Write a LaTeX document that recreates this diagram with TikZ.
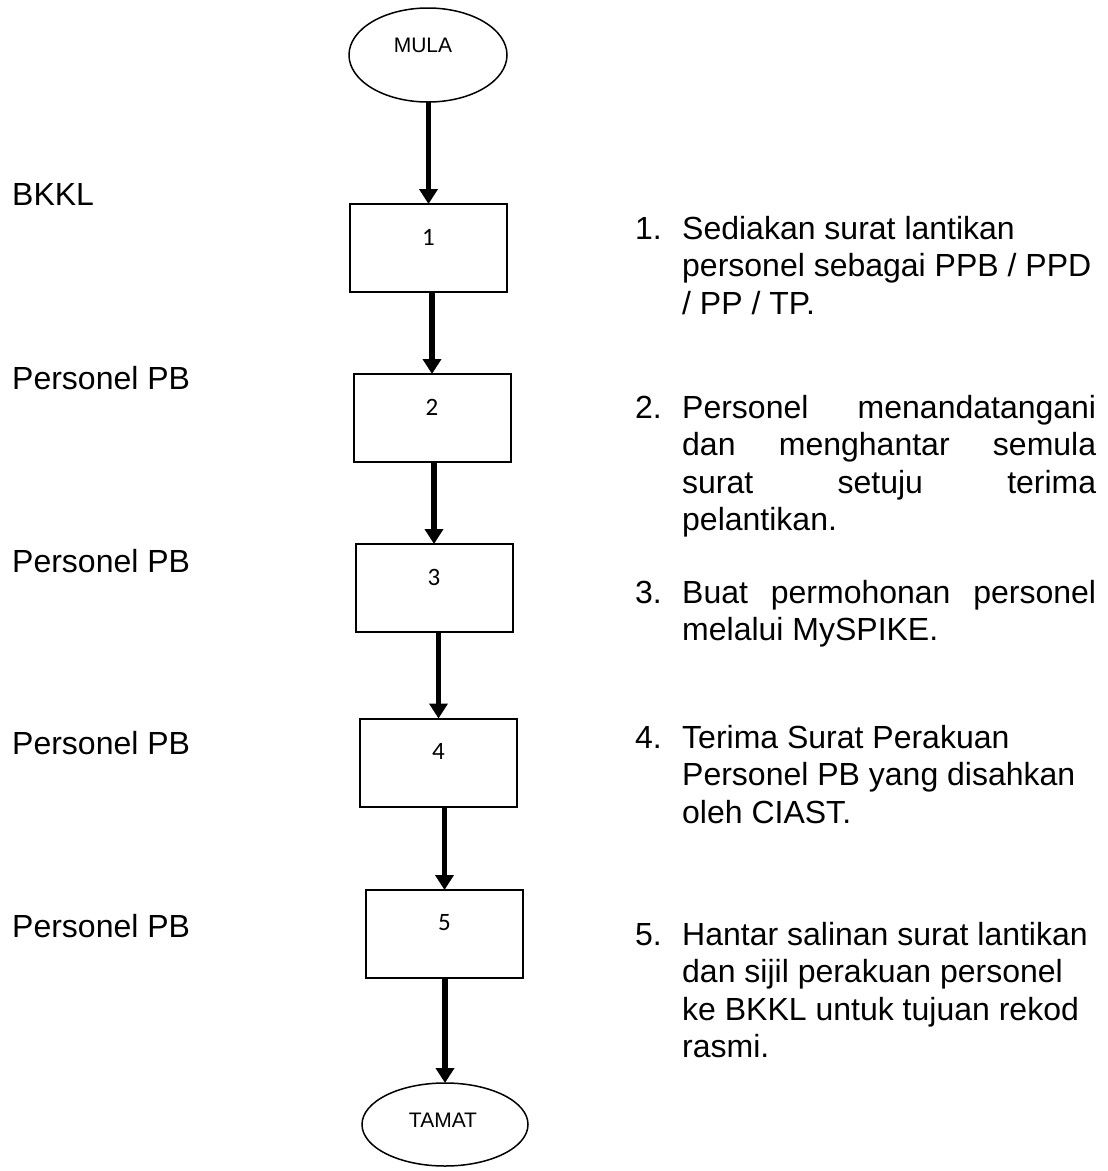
\documentclass[tikz,border=0pt]{standalone}
\usepackage{fontspec}
\setmainfont{Liberation Sans}
\newfontfamily\digitfont{Carlito}
\usetikzlibrary{shapes.geometric,arrows.meta}
% a justified line of the step descriptions
\newcommand{\jline}[1]{\makebox[414pt][s]{#1}}
% number column of the step descriptions
\newcommand{\stepno}[1]{\makebox[47pt][l]{#1}}
\begin{document}
\begin{tikzpicture}[x=1pt,y=-1pt,
  stepbox/.style={draw, rectangle, line width=2pt, minimum width=157pt,
    minimum height=88pt, inner sep=0pt, outer sep=0pt},
  terminal/.style={draw, ellipse, line width=1.5pt, inner sep=0pt, outer sep=0pt},
  termtext/.style={font=\fontsize{21}{25}\selectfont, inner sep=0pt},
  digit/.style={font=\digitfont\fontsize{25}{30}\selectfont, inner sep=0pt},
  role/.style={font=\fontsize{32}{37.5}\selectfont, anchor=base west, inner sep=0pt},
  desc/.style={font=\fontsize{32}{37.5}\selectfont, anchor=base west, inner sep=0pt},
  flow/.style={line width=5.5pt, -{Triangle[width=18pt,length=15pt]}}]
  \useasboundingbox (0,0) rectangle (1108,1171);

  % start and end terminals
  \node[terminal, minimum width=158pt, minimum height=94pt] (start) at (428,55) {};
  \node[termtext] (startlbl) at (423,45) {MULA};
  \node[terminal, minimum width=166pt, minimum height=83pt] (end) at (445,1124.5) {};
  \node[termtext] (endlbl) at (443,1120) {TAMAT};

  % process steps
  \node[stepbox] (b1) at (428.5,248) {};
  \node[stepbox] (b2) at (432,418) {};
  \node[stepbox] (b3) at (434,588) {};
  \node[stepbox] (b4) at (438.5,762.5) {};
  \node[stepbox] (b5) at (444.5,934) {};
  \foreach \i in {1,...,5}
    \node[digit] (d\i) at ([yshift=-33pt]b\i.north) {\i};

  % flow arrows
  \draw[flow] (start.south -| b1.north) -- (b1.north);
  \draw[flow] (b1.south -| b2.north) -- (b2.north);
  \draw[flow] (b2.south -| b3.north) -- (b3.north);
  \draw[flow] (b3.south -| b4.north) -- (b4.north);
  \draw[flow] (b4.south -| b5.north) -- (b5.north);
  \draw[flow] (b5.south -| end.north) -- (end.north);

  % responsible party of each step
  \node[role] (r1) at (12,205) {BKKL};
  \node[role] (r2) at (12,389) {Personel PB};
  \node[role] (r3) at (12,572) {Personel PB};
  \node[role] (r4) at (12,754) {Personel PB};
  \node[role] (r5) at (12,937) {Personel PB};

  % step descriptions
  \node[desc] (t1) at (635,239) {\begin{tabular}[t]{@{}l@{}l@{}}
    \stepno{1.} & Sediakan surat lantikan\\
    & personel sebagai PPB / PPD\\
    & / PP / TP.
  \end{tabular}};
  \node[desc] (t2) at (635,418) {\begin{tabular}[t]{@{}l@{}l@{}}
    \stepno{2.} & \jline{Personel menandatangani}\\
    & \jline{dan menghantar semula}\\
    & \jline{surat setuju terima}\\
    & pelantikan.
  \end{tabular}};
  \node[desc] (t3) at (635,603) {\begin{tabular}[t]{@{}l@{}l@{}}
    \stepno{3.} & \jline{Buat permohonan personel}\\
    & melalui MySPIKE.
  \end{tabular}};
  \node[desc] (t4) at (635,748) {\begin{tabular}[t]{@{}l@{}l@{}}
    \stepno{4.} & Terima Surat Perakuan\\
    & Personel PB yang disahkan\\
    & oleh CIAST.
  \end{tabular}};
  \node[desc] (t5) at (635,945) {\begin{tabular}[t]{@{}l@{}l@{}}
    \stepno{5.} & Hantar salinan surat lantikan\\
    & dan sijil perakuan personel\\
    & ke BKKL untuk tujuan rekod\\
    & rasmi.
  \end{tabular}};
\end{tikzpicture}
\end{document}
